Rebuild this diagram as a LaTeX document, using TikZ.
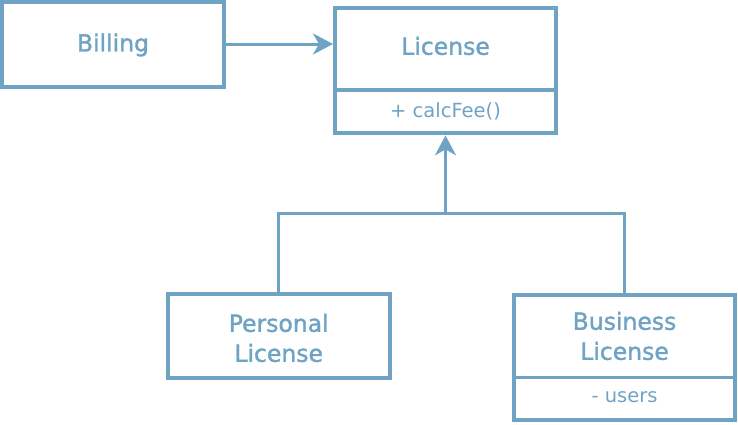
\documentclass[tikz,border=0pt]{standalone}
\usepackage{fontspec}
\setmainfont{DejaVu Sans}
\newfontfamily\medfont[FakeBold=1.5]{DejaVu Sans}
\usetikzlibrary{arrows.meta}
\definecolor{uml}{RGB}{111,163,196}
\begin{document}
\begin{tikzpicture}[x=1pt,y=-1pt,
  box/.style={draw=uml,line width=4pt,rectangle,inner sep=0pt},
  big/.style={text=uml,font=\medfont\fontsize{23.5}{30}\selectfont,align=center},
  small/.style={text=uml,font=\fontsize{19.5}{24}\selectfont},
  conn/.style={draw=uml,line width=3pt},
  arr/.style={conn,-{Stealth[length=20pt,width=21pt,inset=6pt]}}]
\useasboundingbox (0,0) rectangle (738,424);
% boxes
\node[box,minimum width=221.7pt,minimum height=85pt] (bill) at (112.8,44.5) {};
\node[box,minimum width=221pt,minimum height=125.3pt] (lic) at (445.5,70.7) {};
\node[box,minimum width=222pt,minimum height=83.7pt] (per) at (278.7,335.8) {};
\node[box,minimum width=221pt,minimum height=125pt] (bus) at (624.5,357.5) {};
% dividers
\draw[conn,line width=3.5pt] (lic.west |- 0,90) -- (lic.east |- 0,90);
\draw[conn,line width=3.5pt] (bus.west |- 0,377.7) -- (bus.east |- 0,377.7);
% texts
\node[big] (tbill) at (113,45) {Billing};
\node[big] (tlic) at (445.5,46) {License};
\node[small] (tfee) at (445.5,111) {+ calcFee()};
\node[big] (tper) at (278.7,338) {Personal\\License};
\node[big] (tbus) at (624.5,336) {Business\\License};
\node[small] (tusers) at (624.5,397) {- users};
% connectors
\draw[arr] (bill.east |- 0,44) -- (lic.west |- 0,44);
\coordinate (j) at (lic.south |- 0,213.3);
\draw[conn] (per.north) -- (per.north |- j) -- (bus.north |- j) -- (bus.north);
\draw[arr] (j) -- (lic.south);
\end{tikzpicture}
\end{document}
